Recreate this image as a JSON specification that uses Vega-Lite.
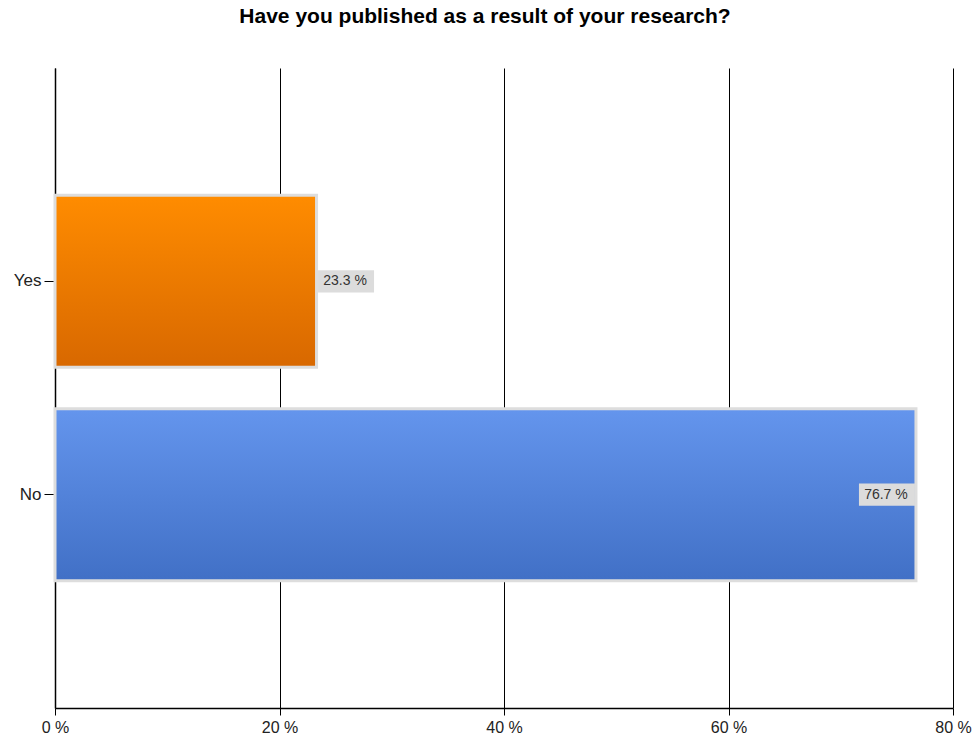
{
  "$schema": "https://vega.github.io/schema/vega-lite/v6.json",
  "width": 898,
  "height": 640,
  "autosize": {"type": "none"},
  "padding": {"left": 55, "top": 68, "right": 19, "bottom": 30},
  "background": "white",
  "config": {
    "view": {"stroke": null},
    "font": "Liberation Sans"
  },
  "title": {
    "text": "Have you published as a result of your research?",
    "fontSize": 21,
    "fontWeight": "bold",
    "font": "Liberation Sans",
    "color": "#000000",
    "anchor": "middle",
    "dx": -19,
    "offset": 24,
    "baseline": "alphabetic"
  },
  "data": {
    "values": [
      {"answer": "Yes", "pct": 23.3, "label": "23.3 %"},
      {"answer": "No", "pct": 76.7, "label": "76.7 %"}
    ]
  },
  "encoding": {
    "y": {
      "field": "answer",
      "type": "nominal",
      "sort": ["Yes", "No"],
      "scale": {"domain": ["Yes", "No"], "paddingInner": 0.194, "paddingOuter": 0.597},
      "axis": {
        "title": null,
        "domainColor": "#000000",
        "domainWidth": 1.5,
        "tickColor": "#000000",
        "tickSize": 11,
        "tickWidth": 1,
        "labelFontSize": 17,
        "labelFont": "Liberation Sans",
        "labelColor": "#222222",
        "labelPadding": 3,
        "grid": false
      }
    },
    "x": {
      "field": "pct",
      "type": "quantitative",
      "scale": {"domain": [0, 80], "nice": false},
      "axis": {
        "title": null,
        "values": [0, 20, 40, 60, 80],
        "labelExpr": "datum.value + ' %'",
        "grid": true,
        "gridColor": "#000000",
        "gridOpacity": 1,
        "gridWidth": 1,
        "domainColor": "#000000",
        "domainWidth": 1.5,
        "tickColor": "#000000",
        "tickSize": 7,
        "labelFontSize": 16,
        "labelFont": "Liberation Sans",
        "labelColor": "#222222",
        "labelPadding": 4,
        "labelFlush": false
      }
    }
  },
  "layer": [
    {
      "transform": [{"filter": "datum.answer === 'Yes'"}],
      "mark": {
        "type": "bar",
        "stroke": "#DDDDDD",
        "strokeWidth": 3,
        "fill": {
          "gradient": "linear",
          "x1": 0, "y1": 0, "x2": 0, "y2": 1,
          "stops": [
            {"offset": 0, "color": "#FF8C00"},
            {"offset": 1, "color": "#D86800"}
          ]
        }
      }
    },
    {
      "transform": [{"filter": "datum.answer === 'No'"}],
      "mark": {
        "type": "bar",
        "stroke": "#DDDDDD",
        "strokeWidth": 3,
        "fill": {
          "gradient": "linear",
          "x1": 0, "y1": 0, "x2": 0, "y2": 1,
          "stops": [
            {"offset": 0, "color": "#6495ED"},
            {"offset": 1, "color": "#4170C6"}
          ]
        }
      }
    },
    {
      "transform": [{"filter": "datum.answer === 'Yes'"}],
      "mark": {
        "type": "point",
        "shape": "M-1,-0.4H1V0.4H-1Z",
        "size": 3136,
        "filled": true,
        "fill": "#DCDCDC",
        "opacity": 1,
        "strokeWidth": 0,
        "xOffset": 29.5
      }
    },
    {
      "transform": [{"filter": "datum.answer === 'No'"}],
      "mark": {
        "type": "point",
        "shape": "M-1,-0.4H1V0.4H-1Z",
        "size": 3136,
        "filled": true,
        "fill": "#DCDCDC",
        "opacity": 1,
        "strokeWidth": 0,
        "xOffset": -29
      }
    },
    {
      "transform": [{"filter": "datum.answer === 'Yes'"}],
      "mark": {
        "type": "text",
        "fontSize": 14,
        "font": "Liberation Sans",
        "color": "#333333",
        "align": "center",
        "baseline": "middle",
        "xOffset": 28.5
      },
      "encoding": {"text": {"field": "label"}}
    },
    {
      "transform": [{"filter": "datum.answer === 'No'"}],
      "mark": {
        "type": "text",
        "fontSize": 14,
        "font": "Liberation Sans",
        "color": "#333333",
        "align": "center",
        "baseline": "middle",
        "xOffset": -30
      },
      "encoding": {"text": {"field": "label"}}
    }
  ]
}
